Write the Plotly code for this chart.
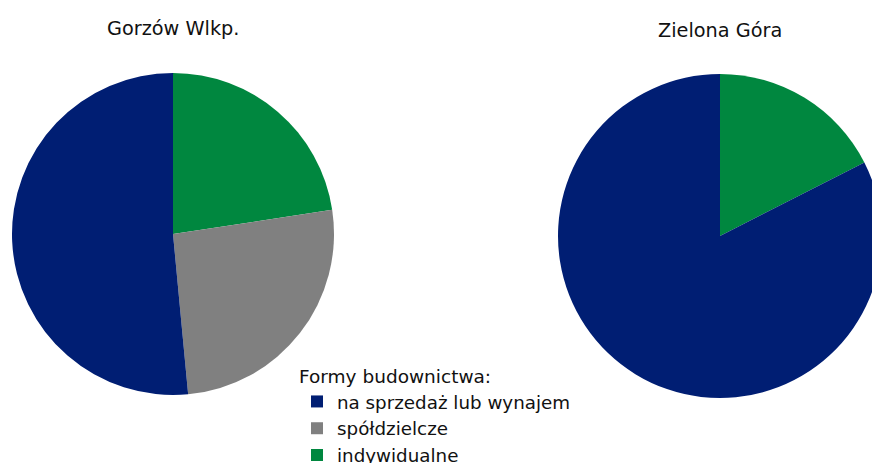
import plotly.graph_objects as go

# slice order: clockwise from 12 o'clock
labels = ["indywidualne", "spółdzielcze", "na sprzedaż lub wynajem"]
colors = ["#00873f", "#808080", "#001e73"]
gorzow = [22.6, 25.9, 51.5]
zielona = [17.5, 0.0, 82.5]
titles = ["Gorzów Wlkp.", "Zielona Góra"]

W, H = 890, 463
FONT = "DejaVu Sans"

fig = go.Figure()
fig.add_trace(go.Pie(labels=labels, values=gorzow, sort=False,
                     direction="clockwise", rotation=0,
                     marker=dict(colors=colors), textinfo="none",
                     hoverinfo="label+percent",
                     domain=dict(x=[12/W, 334/W], y=[1-395/H, 1-73/H])))
fig.add_trace(go.Pie(labels=labels, values=zielona, sort=False,
                     direction="clockwise", rotation=0,
                     marker=dict(colors=colors), textinfo="none",
                     hoverinfo="label+percent", showlegend=False,
                     domain=dict(x=[558/W, 882/W], y=[1-398/H, 1-74/H])))

for t, cx, cy in [(titles[0], 173, 28), (titles[1], 720, 30)]:
    fig.add_annotation(text=t, x=cx/W, y=1-cy/H, xref="paper", yref="paper",
                       xanchor="center", yanchor="middle",
                       showarrow=False, font=dict(size=19.3, color="#111111"))

fig.update_layout(
    width=W, height=H,
    margin=dict(l=0, r=0, t=0, b=0, autoexpand=False),
    paper_bgcolor="white",
    font=dict(family=FONT, size=18, color="#111111"),
    legend=dict(title=dict(text="Formy budownictwa:", side="top",
                           font=dict(size=18.5)),
                font=dict(size=18.3), traceorder="reversed",
                x=297/W, y=1-359/H, xanchor="left", yanchor="top",
                tracegroupgap=0, itemsizing="constant"),
)
fig.write_html("out.html", config={"displayModeBar": False},
               post_script="document.body.style.margin='0';")
